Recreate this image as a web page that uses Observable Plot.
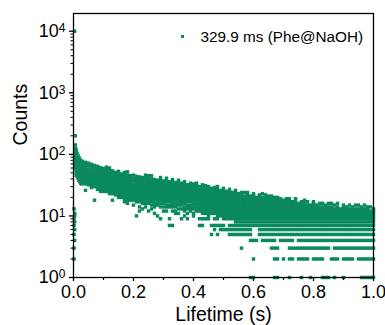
<!DOCTYPE html>
<html><head><meta charset="utf-8">
<script src="https://cdn.jsdelivr.net/npm/d3@7"></script>
<script src="https://cdn.jsdelivr.net/npm/@observablehq/plot@0.6"></script>
<style>
html,body{margin:0;padding:0;background:#fff;}
#chart svg{display:block;}
</style></head><body><div id="chart"></div>
<script>
// Time bins (s) of the scatter columns
const colTimes = [
  0.002, 0.004, 0.006, 0.009, 0.012, 0.015, 0.018, 0.021, 0.024, 0.027,
  0.03, 0.04, 0.05, 0.06, 0.07, 0.08, 0.09, 0.10, 0.11, 0.12,
  0.13, 0.14, 0.15, 0.16, 0.17, 0.18, 0.19, 0.20, 0.21, 0.22,
  0.23, 0.24, 0.25, 0.26, 0.27, 0.28, 0.29, 0.30, 0.31, 0.32,
  0.33, 0.34, 0.35, 0.36, 0.37, 0.38, 0.39, 0.40, 0.41, 0.42,
  0.43, 0.44, 0.45, 0.46, 0.47, 0.48, 0.49, 0.50, 0.51, 0.52,
  0.53, 0.54, 0.55, 0.56, 0.57, 0.58, 0.59, 0.60, 0.61, 0.62,
  0.63, 0.64, 0.65, 0.66, 0.67, 0.68, 0.69, 0.70, 0.71, 0.72,
  0.73, 0.74, 0.75, 0.76, 0.77, 0.78, 0.79, 0.80, 0.81, 0.82,
  0.83, 0.84, 0.85, 0.86, 0.87, 0.88, 0.89, 0.90, 0.91, 0.92,
  0.93, 0.94, 0.95, 0.96, 0.97, 0.98, 0.99, 1.00
];
// Counts seen in each time column
const colCounts = [
  [13, 9, 7, 5, 3, 2],
  [10000, 11, 10, 8, 6, 4],
  [200, 142, 126, 113, 101, 91, 82, 74, 66, 60],
  [120, 107, 96, 86, 77, 69, 62, 56, 50, 46],
  [104, 93, 84, 75, 67, 60, 54, 49, 44],
  [96, 86, 77, 69, 62, 56, 50, 45, 41],
  [89, 80, 72, 65, 58, 52, 47, 42, 38],
  [84, 76, 68, 61, 55, 49, 44, 40, 36],
  [79, 71, 64, 57, 51, 46, 41, 37, 34],
  [76, 68, 61, 55, 49, 44, 40, 36, 33],
  [77, 69, 62, 56, 50, 45, 41, 37, 34],
  [74, 66, 60, 54, 49, 44, 40, 36, 33, 26],
  [72, 65, 58, 52, 47, 43, 39, 35, 32],
  [69, 62, 56, 51, 46, 42, 38, 34, 31, 29],
  [66, 60, 54, 49, 44, 40, 36, 33, 30, 18],
  [64, 58, 52, 47, 43, 39, 35, 32, 29, 27],
  [61, 55, 50, 45, 41, 37, 34, 31, 28, 25],
  [59, 53, 48, 44, 40, 36, 33, 30, 27, 25],
  [62, 56, 51, 46, 42, 38, 34, 31, 28, 25],
  [60, 56, 50, 45, 41, 37, 34, 31, 28, 25, 23],
  [54, 49, 44, 40, 36, 33, 30, 27, 25, 23, 18],
  [51, 46, 42, 38, 35, 32, 29, 26, 24, 22],
  [53, 50, 45, 41, 37, 34, 31, 28, 26, 24, 22, 20],
  [48, 44, 40, 36, 33, 30, 27, 25, 23, 21, 20],
  [51, 47, 43, 39, 35, 32, 29, 27, 25, 23, 21, 19, 17],
  [52, 46, 42, 38, 35, 32, 29, 26, 24, 22, 20, 18, 16],
  [45, 41, 37, 34, 31, 28, 26, 24, 22, 20, 18],
  [46, 41, 37, 33, 30, 28, 25, 23, 21, 19, 18, 15],
  [44, 40, 36, 33, 30, 27, 25, 23, 21, 19, 17, 10],
  [43, 39, 35, 32, 29, 27, 24, 22, 20, 18, 17, 14, 12],
  [42, 38, 35, 32, 29, 26, 24, 22, 20, 18, 16, 13],
  [46, 42, 38, 34, 31, 28, 26, 24, 22, 20, 18, 16, 14],
  [45, 41, 37, 34, 31, 28, 25, 23, 21, 19, 17, 16, 12],
  [45, 40, 36, 33, 30, 27, 25, 23, 21, 19, 17, 15, 13],
  [39, 36, 33, 30, 27, 24, 22, 20, 18, 16, 15, 14, 11],
  [38, 35, 32, 29, 26, 24, 22, 20, 18, 16, 15, 10],
  [42, 38, 34, 31, 28, 26, 24, 22, 20, 18, 16, 14, 9],
  [37, 34, 31, 28, 25, 23, 21, 19, 17, 16, 14, 12],
  [41, 37, 33, 30, 27, 25, 23, 21, 19, 17, 15, 14, 12],
  [36, 33, 30, 27, 24, 22, 20, 18, 17, 15, 14, 9, 7],
  [39, 35, 32, 29, 26, 24, 22, 20, 18, 16, 15, 14, 12, 7],
  [35, 32, 29, 26, 24, 22, 20, 18, 16, 15, 14, 12, 11],
  [38, 34, 31, 28, 26, 24, 22, 20, 18, 16, 15, 13, 11],
  [34, 31, 28, 25, 23, 21, 19, 17, 16, 15, 13, 9],
  [36, 33, 30, 27, 25, 23, 21, 19, 17, 16, 14, 13, 12, 10],
  [32, 29, 27, 25, 23, 21, 19, 17, 15, 14, 13, 11, 9],
  [34, 31, 29, 26, 24, 22, 20, 18, 17, 15, 14, 13, 12],
  [33, 30, 28, 26, 24, 22, 20, 18, 16, 15, 14, 13, 11, 10],
  [34, 31, 28, 26, 24, 22, 20, 18, 16, 15, 14, 13, 12],
  [30, 28, 25, 23, 21, 19, 18, 16, 15, 14, 13, 12, 9, 7],
  [32, 29, 27, 25, 23, 21, 19, 17, 16, 15, 14, 13, 12, 11, 9, 7],
  [31, 29, 27, 25, 23, 21, 19, 17, 16, 15, 14, 13, 12, 11, 9],
  [30, 28, 26, 24, 22, 20, 19, 17, 16, 15, 14, 13, 12, 11, 10, 9],
  [28, 26, 24, 22, 20, 18, 17, 16, 15, 14, 13, 12, 11, 7, 5],
  [29, 27, 25, 23, 22, 20, 18, 17, 16, 15, 14, 13, 12, 11, 9, 7, 6],
  [30, 27, 25, 23, 21, 20, 18, 17, 16, 15, 14, 13, 12, 11, 10, 9, 7, 5],
  [26, 24, 23, 21, 19, 18, 17, 16, 15, 14, 13, 12, 11, 10, 7, 6],
  [28, 26, 24, 22, 21, 19, 18, 17, 16, 15, 14, 13, 12, 11, 10, 9, 7, 6],
  [25, 24, 22, 20, 19, 18, 17, 16, 15, 14, 13, 12, 11, 10, 9, 6],
  [27, 25, 23, 22, 20, 19, 18, 17, 16, 15, 14, 13, 12, 11, 10, 9, 7, 6, 5],
  [24, 23, 21, 20, 19, 18, 17, 16, 15, 14, 13, 12, 11, 10, 9, 7, 6, 5],
  [26, 24, 22, 21, 20, 19, 18, 17, 16, 15, 14, 13, 12, 11, 10, 9, 8, 7, 6, 5],
  [23, 21, 19, 17, 16, 15, 14, 13, 12, 11, 10, 9, 8, 7, 6, 5],
  [24, 22, 20, 18, 17, 16, 15, 14, 13, 12, 11, 10, 9, 8, 7, 6, 5, 3],
  [24, 21, 19, 17, 16, 15, 14, 13, 12, 11, 10, 9, 8, 7, 6, 5],
  [24, 22, 20, 18, 16, 15, 14, 13, 12, 11, 10, 9, 8, 7, 6, 5],
  [21, 19, 17, 16, 15, 14, 13, 12, 11, 10, 9, 8, 7, 6, 5, 4, 1],
  [23, 22, 20, 18, 16, 15, 14, 13, 12, 11, 10, 9, 8, 7, 4, 2, 1],
  [20, 18, 16, 15, 14, 13, 12, 11, 10, 9, 8, 7, 4],
  [22, 21, 19, 17, 16, 15, 14, 13, 12, 11, 10, 9, 8, 7, 6, 5],
  [23, 20, 18, 16, 15, 14, 13, 12, 11, 10, 9, 8, 7, 6, 5, 4],
  [22, 20, 18, 17, 16, 15, 14, 13, 12, 11, 10, 9, 8, 7, 6, 5, 4],
  [21, 19, 17, 16, 15, 14, 13, 12, 11, 10, 9, 8, 7, 6, 5, 4],
  [21, 19, 17, 16, 15, 14, 13, 12, 11, 10, 9, 8, 7, 6, 5, 4, 3],
  [20, 18, 16, 15, 14, 13, 12, 11, 10, 9, 8, 7, 6, 5, 4, 3, 2, 1],
  [20, 18, 17, 16, 15, 14, 13, 12, 11, 10, 9, 8, 7, 6, 5, 3, 2, 1],
  [19, 17, 16, 15, 14, 13, 12, 11, 10, 9, 8, 7, 6, 5, 4],
  [18, 17, 16, 15, 14, 13, 12, 11, 10, 9, 8, 7, 6, 5, 4, 2],
  [19, 17, 16, 15, 14, 13, 12, 11, 10, 9, 8, 7, 6, 5, 4],
  [19, 17, 16, 15, 14, 13, 12, 11, 10, 9, 8, 7, 6, 5, 4, 3, 2, 1],
  [17, 16, 15, 14, 13, 12, 11, 10, 9, 8, 7, 6, 5, 4, 3, 2],
  [19, 18, 16, 15, 14, 13, 12, 11, 10, 9, 8, 7, 6, 5, 3],
  [16, 15, 14, 13, 12, 11, 10, 9, 8, 7, 6, 5, 4, 3, 2],
  [17, 16, 15, 14, 13, 12, 11, 10, 9, 8, 7, 6, 5, 4, 3, 2, 1],
  [18, 16, 15, 14, 13, 12, 11, 10, 9, 8, 7, 6, 5, 4, 3, 2],
  [17, 15, 14, 13, 12, 11, 10, 9, 8, 7, 6, 5, 4, 3, 2],
  [15, 14, 13, 12, 11, 10, 9, 8, 7, 6, 5, 4, 3, 1],
  [17, 16, 15, 14, 13, 12, 11, 10, 9, 8, 7, 6, 5, 4, 3, 2],
  [15, 14, 13, 12, 11, 10, 9, 8, 7, 6, 5, 4, 3, 2],
  [16, 14, 13, 12, 11, 10, 9, 8, 7, 6, 5, 4, 3, 2],
  [16, 14, 13, 12, 11, 10, 9, 8, 7, 6, 5, 4, 3, 2, 1],
  [15, 14, 13, 12, 11, 10, 9, 8, 7, 6, 5, 4, 3, 1],
  [16, 14, 13, 12, 11, 10, 9, 8, 7, 6, 5, 4, 3, 1],
  [16, 14, 13, 12, 11, 10, 9, 8, 7, 6, 5, 4, 2],
  [15, 13, 12, 11, 10, 9, 8, 7, 6, 5, 4, 3, 2, 1],
  [16, 14, 13, 12, 11, 10, 9, 8, 7, 6, 5, 4, 3, 2],
  [13, 12, 11, 10, 9, 8, 7, 6, 5, 4, 3],
  [15, 14, 13, 12, 11, 10, 9, 8, 7, 6, 5, 4, 3, 2, 1],
  [14, 13, 12, 11, 10, 9, 8, 7, 6, 5, 4, 3, 2],
  [15, 13, 12, 11, 10, 9, 8, 7, 6, 5, 4, 3, 2],
  [14, 13, 12, 11, 10, 9, 8, 7, 6, 5, 4, 3, 2],
  [15, 13, 12, 11, 10, 9, 8, 7, 6, 5, 4, 3],
  [15, 13, 12, 11, 10, 9, 8, 7, 6, 5, 4, 3, 2],
  [14, 13, 12, 11, 10, 9, 8, 7, 6, 5, 4, 3, 2, 1],
  [15, 13, 12, 11, 10, 9, 8, 7, 6, 5, 4, 3, 2, 1],
  [14, 13, 12, 11, 10, 9, 8, 7, 6, 5, 4, 3, 2, 1],
  [14, 12, 11, 10, 9, 8, 7, 6, 5, 4, 3, 2, 1],
  [13, 12, 11, 10, 9, 8, 7, 6, 5, 4, 3, 2, 1]
];
const xTicks = [0, 0.2, 0.4, 0.6, 0.8, 1.0];
const xMinorTicks = [0.1, 0.3, 0.5, 0.7, 0.9];
const yTicks = [1, 10, 100, 1000, 10000];
const yMinorTicks = [2, 3, 4, 5, 6, 7, 8, 9, 20, 30, 40, 50, 60, 70, 80, 90,
  200, 300, 400, 500, 600, 700, 800, 900, 2000, 3000, 4000, 5000, 6000, 7000, 8000, 9000];
const seriesLabel = "329.9 ms (Phe@NaOH)";
const xLabel = "Lifetime (s)";
const yLabel = "Counts";
const green = "#0b8a5e";

const points = colTimes.flatMap((t, i) => colCounts[i].map(c => ({t, c})));

const chart = Plot.plot({
  width: 385, height: 325,
  marginLeft: 73, marginRight: 12, marginTop: 13, marginBottom: 48,
  style: {fontFamily: "'Liberation Sans', Arial, sans-serif", fontSize: "18px", color: "#000", background: "#fff"},
  x: {domain: [0, 1]},
  y: {type: "log", domain: [1, 19400]},
  marks: [
    Plot.dot(points, {x: "t", y: "c", symbol: "square", r: 1.95, fill: green, stroke: null}),
    Plot.frame({stroke: "#000", strokeWidth: 1.3}),
    Plot.axisX({ticks: xTicks, tickFormat: d3.format(".1f"), tickSize: 4, tickPadding: 4, label: null, fontSize: 18, strokeWidth: 1.3}),
    Plot.axisX({ticks: xMinorTicks, tickFormat: () => "", tickSize: 3, label: null, strokeWidth: 1.2}),
    Plot.axisY({ticks: yTicks, tickFormat: d => "10^" + Math.round(Math.log10(d)), tickSize: 4, tickPadding: 4, label: null, fontSize: 18, strokeWidth: 1.3}),
    Plot.axisY({ticks: yMinorTicks, tickFormat: () => "", tickSize: 2.5, label: null, strokeWidth: 1}),
    Plot.text([yLabel], {text: d => d, frameAnchor: "left", dx: -53, rotate: -90, fontSize: 19.5, lineAnchor: "middle"}),
    Plot.text([xLabel], {text: d => d, frameAnchor: "bottom", dy: 37, fontSize: 19.5, lineAnchor: "middle"}),
    Plot.dot([seriesLabel], {frameAnchor: "top-left", dx: 109, dy: 23, symbol: "square", r: 1.7, fill: green, stroke: null}),
    Plot.text([seriesLabel], {text: d => d, frameAnchor: "top-left", dx: 127, dy: 24, textAnchor: "start", fontSize: 15.3, lineAnchor: "middle"})
  ]
});

d3.select(chart).selectAll('g[aria-label="y-axis tick label"] text').each(function () {
  const s = this.textContent;
  if (!s.includes("^")) return;
  const [base, exp] = s.split("^");
  const sel = d3.select(this);
  sel.text(base);
  sel.append("tspan").attr("dy", "-0.42em").attr("font-size", "12px").text(exp);
});

document.getElementById("chart").appendChild(chart);
</script>
</body></html>
